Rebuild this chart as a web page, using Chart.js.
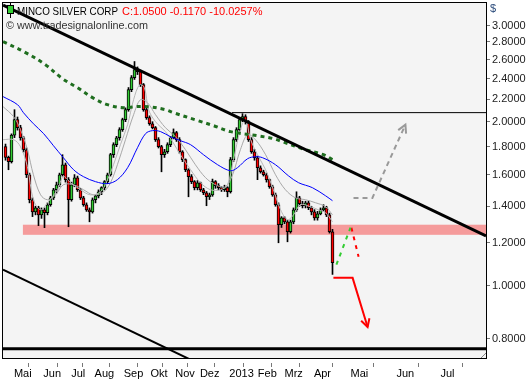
<!DOCTYPE html>
<html><head><meta charset="utf-8">
<script src="https://cdn.jsdelivr.net/npm/chart.js@4/dist/chart.umd.min.js"></script>
<style>html,body{margin:0;padding:0;background:#fff;}canvas{display:block;}</style>
</head><body>
<canvas id="c" width="529" height="380" style="width:529px;height:380px"></canvas>
<script>
// ---- texts ----
const titleName = "MINCO SILVER CORP";
const titleQuote = "C:1.0500 -0.1170 -10.0257%";
const copyright = "\u00A9 www.tradesignalonline.com";
const currency = "$";

// ---- axes ----
const monthLabels = ["Mai","Jun","Jul","Aug","Sep","Okt","Nov","Dez","2013","Feb","Mrz","Apr","Mai","Jun","Jul"];
const monthPos = [2.8,12.6,21.9,29.7,39.4,48.3,56.6,64.8,74.6,84.1,93,102.8,115,130.3,145];
const yTicks = [0.8,1.0,1.2,1.4,1.6,1.8,2.0,2.2,2.4,2.6,2.8,3.0];
const xMin = -0.8333, xMax = 160.1667;
const yMin = 0.738, yMax = 3.30;

// ---- candles (one bar per slot) ----
const opens = [1.80,1.72,1.69,1.89,2.017,1.95,1.869,1.777,1.599,1.439,
 1.367,1.391,1.350,1.379,1.362,1.409,1.450,1.501,1.533,1.599,
 1.668,1.566,1.439,1.533,1.579,1.501,1.450,1.409,1.379,1.367,
 1.439,1.463,1.488,1.514,1.553,1.599,1.740,1.815,1.869,1.934,
 2.017,2.104,2.290,2.408,2.491,2.470,2.338,2.104,2.034,1.983,
 1.950,1.854,1.800,1.740,1.762,1.815,1.869,1.910,1.854,1.762,
 1.704,1.633,1.586,1.553,1.514,1.546,1.501,1.482,1.457,1.469,
 1.553,1.527,1.514,1.501,1.514,1.488,1.704,1.854,1.934,2.017,
 2.043,2.000,1.854,1.762,1.718,1.647,1.619,1.599,1.566,1.520,
 1.469,1.409,1.295,1.333,1.311,1.257,1.311,1.379,1.450,1.415,
 1.403,1.421,1.391,1.367,1.333,1.356,1.379,1.391,1.350,1.257];
const closes = [1.72,1.69,1.89,2.017,1.95,1.869,1.777,1.599,1.439,1.367,
 1.391,1.350,1.379,1.362,1.409,1.450,1.501,1.533,1.599,1.668,
 1.566,1.439,1.533,1.579,1.501,1.450,1.409,1.379,1.367,1.439,
 1.463,1.488,1.514,1.553,1.599,1.740,1.815,1.869,1.934,2.017,
 2.104,2.290,2.408,2.491,2.470,2.338,2.104,2.034,1.983,1.950,
 1.854,1.800,1.740,1.762,1.815,1.869,1.910,1.854,1.762,1.704,
 1.633,1.586,1.553,1.514,1.546,1.501,1.482,1.457,1.469,1.553,
 1.527,1.514,1.501,1.514,1.488,1.704,1.854,1.934,2.017,2.043,
 2.000,1.854,1.762,1.718,1.647,1.619,1.599,1.566,1.520,1.469,
 1.409,1.295,1.333,1.311,1.257,1.311,1.379,1.450,1.415,1.403,
 1.421,1.391,1.367,1.333,1.356,1.379,1.391,1.350,1.257,1.103];
const highs = [1.82,1.73,1.90,2.104,2.04,1.97,1.88,1.79,1.61,1.45,
 1.40,1.40,1.39,1.39,1.42,1.46,1.51,1.55,1.61,1.740,
 1.68,1.58,1.55,1.60,1.59,1.51,1.46,1.42,1.39,1.45,
 1.47,1.50,1.52,1.56,1.61,1.75,1.83,1.88,1.95,2.03,
 2.12,2.31,2.43,2.578,2.52,2.48,2.35,2.12,2.05,2.00,
 1.96,1.87,1.81,1.78,1.83,1.88,1.94,1.92,1.87,1.77,
 1.71,1.64,1.60,1.56,1.56,1.55,1.51,1.49,1.48,1.57,
 1.56,1.54,1.52,1.53,1.52,1.72,1.87,1.95,2.03,2.069,
 2.06,2.01,1.87,1.78,1.73,1.66,1.63,1.61,1.57,1.53,
 1.48,1.42,1.34,1.34,1.32,1.32,1.39,1.488,1.46,1.43,
 1.43,1.43,1.40,1.38,1.37,1.39,1.409,1.40,1.36,1.27];
const lows = [1.70,1.633,1.68,1.87,1.93,1.85,1.76,1.58,1.42,1.34,
 1.35,1.290,1.33,1.279,1.35,1.40,1.44,1.48,1.52,1.59,
 1.55,1.284,1.43,1.52,1.49,1.44,1.40,1.37,1.311,1.36,
 1.42,1.45,1.47,1.50,1.54,1.59,1.72,1.80,1.85,1.92,
 2.00,2.09,2.27,2.39,2.44,2.32,2.09,2.02,1.97,1.94,
 1.84,1.79,1.619,1.72,1.75,1.80,1.86,1.84,1.75,1.69,
 1.62,1.457,1.54,1.50,1.50,1.49,1.47,1.403,1.44,1.46,
 1.51,1.50,1.49,1.49,1.457,1.48,1.69,1.84,1.92,2.00,
 1.98,1.84,1.75,1.70,1.566,1.61,1.59,1.55,1.51,1.46,
 1.40,1.200,1.28,1.30,1.205,1.25,1.30,1.37,1.40,1.39,
 1.39,1.38,1.35,1.32,1.32,1.35,1.37,1.34,1.25,1.050];

// ---- moving averages (read at sample slots) ----
const maBlueX = [-0.8,4,6,9.3,12.7,16,19.3,22.7,26,30,34,37.3,40.7,44,46.7,49,51.7,55,58.3,61.7,66,70.7,75,77.3,80.7,83.3,85.7,90,94.3,97.7,102.3,106.7,109];
const maBlueY = [2.223,2.149,2.077,1.983,1.902,1.807,1.718,1.633,1.586,1.553,1.540,1.566,1.647,1.792,1.902,1.926,1.918,1.877,1.846,1.815,1.740,1.668,1.626,1.647,1.711,1.725,1.718,1.668,1.592,1.546,1.514,1.463,1.433];
const maFastX = [-0.8,2.7,5,7.3,9.3,11.7,14,17.3,19.3,21.7,25,28.3,31.7,34,36,38.3,40.7,42.7,44.7,46.3,47.7,50,53.3,55.7,58.3,61.7,65,68.3,71.7,74,76,78.3,80,81.7,84,86.7,89.3,91.7,94,96,98.3,101.7,104.3,106.7,109];
const maFastY = [1.854,1.854,1.800,1.654,1.439,1.379,1.421,1.501,1.586,1.546,1.501,1.469,1.488,1.566,1.668,1.815,1.975,2.195,2.338,2.308,2.104,2.000,1.918,1.838,1.740,1.633,1.546,1.501,1.501,1.533,1.704,1.934,2.017,1.854,1.740,1.633,1.501,1.379,1.322,1.350,1.409,1.397,1.379,1.362,1.311];
const maSlowX = [-0.8,2.7,5,7.3,9.3,11.7,14,16.7,19.3,22.7,26,29.3,32.7,35,37.3,40,42.7,45,47.3,50,53.3,56.7,60,63.3,66.7,70,73.3,75.7,78.3,80.7,83.3,86.7,90,93.3,96.7,100,103.3,106.7,109];
const maSlowY = [2.131,2.043,1.934,1.777,1.599,1.469,1.439,1.469,1.533,1.533,1.501,1.469,1.488,1.546,1.668,1.854,2.060,2.195,2.167,2.060,1.950,1.877,1.777,1.668,1.579,1.533,1.520,1.599,1.777,1.893,1.854,1.740,1.599,1.501,1.450,1.439,1.421,1.397,1.350];
const maLongX = [-0.8,6.7,13.3,19,24,29,34,39.3,43.3,47.7,53.3,56,64.3,69.3,75,84,89.3,92.3,100,106,109];
const maLongY = [2.804,2.677,2.544,2.398,2.308,2.214,2.149,2.122,2.131,2.131,2.104,2.077,2.008,1.967,1.918,1.885,1.862,1.838,1.777,1.740,1.704];

// ---- drawn analysis lines ----
const upperTrendX = [-0.8333,160.1667], upperTrendY = [3.27,1.235];
const lowerTrendX = [-0.8333,160.1667], lowerTrendY = [1.071,0.403];
const resistX = [75.5,160.1667], resistY = [2.078,2.078];
const floorX = [-0.8333,160.1667], floorY = [0.767,0.767];
const bandLow = 1.241, bandHigh = 1.295, bandStartX = 5.8;
const grayArrowX = [116,122.3,133.3], grayArrowY = [1.450,1.450,1.975];
const redArrowX = [109.3,115.7,120.7], redArrowY = [1.035,1.035,0.841];
const greenPathX = [110.3,115], greenPathY = [1.094,1.279];
const redPathX = [115.3,117.7], redPathY = [1.279,1.131];

const pts = (xs, ys) => xs.map((x, i) => ({x: x, y: ys[i]}));

const FONT = {family: '"Liberation Sans", Arial, sans-serif', size: 11};

const wickData = closes.map((c, i) => ({x: i, y: [lows[i], highs[i]]}));
const bodyData = closes.map((c, i) => ({x: i, y: [opens[i], closes[i]]}));
const bodyColors = closes.map((c, i) => c >= opens[i] ? '#33cc33' : '#ff0000');

function line(xs, ys, color, width, extra) {
  return Object.assign({type: 'line', data: pts(xs, ys), borderColor: color, borderWidth: width,
    pointRadius: 0, fill: false, tension: 0}, extra || {});
}

const decor = {
  id: 'decor',
  beforeDraw(chart) {
    const {ctx, chartArea: a} = chart;
    ctx.save();
    ctx.fillStyle = '#ffffff';
    ctx.fillRect(0, 0, chart.width, chart.height);
    ctx.fillStyle = '#f4f4f4';
    ctx.fillRect(a.left, a.top, a.right - a.left, a.bottom - a.top);
    ctx.restore();
  },
  beforeDatasetsDraw(chart) {
    const {ctx, chartArea: a, scales: {x, y}} = chart;
    ctx.save();
    const y1 = y.getPixelForValue(bandHigh), y2 = y.getPixelForValue(bandLow);
    const x1 = x.getPixelForValue(bandStartX);
    ctx.fillStyle = '#f59b9b';
    ctx.fillRect(x1, y1, a.right - x1, y2 - y1);
    ctx.restore();
  },
  afterDatasetsDraw(chart) {
    const {ctx, chartArea: a} = chart;
    ctx.save();
    // arrow heads
    chart.data.datasets.forEach((ds, i) => {
      if (!ds.arrowHead) return;
      const d = chart.getDatasetMeta(i).data;
      const p = d[d.length - 2], q = d[d.length - 1];
      const ang = Math.atan2(q.y - p.y, q.x - p.x), L = 9;
      ctx.strokeStyle = ds.borderColor; ctx.lineWidth = 2; ctx.setLineDash([]);
      ctx.beginPath();
      ctx.moveTo(q.x - L * Math.cos(ang - 0.5), q.y - L * Math.sin(ang - 0.5));
      ctx.lineTo(q.x, q.y);
      ctx.lineTo(q.x - L * Math.cos(ang + 0.5), q.y - L * Math.sin(ang + 0.5));
      ctx.stroke();
    });
    // frame
    ctx.strokeStyle = '#000'; ctx.lineWidth = 1;
    ctx.strokeRect(a.left - 0.5, a.top - 0.5, a.right - a.left + 1, a.bottom - a.top + 1);
    // legend icon
    ctx.beginPath(); ctx.moveTo(10.5, 2); ctx.lineTo(10.5, 18); ctx.stroke();
    ctx.fillStyle = '#33cc33'; ctx.fillRect(7, 5, 7, 9);
    ctx.strokeRect(7.5, 5.5, 6, 8);
    // texts
    ctx.font = '11px "Liberation Sans", Arial, sans-serif';
    ctx.textBaseline = 'alphabetic'; ctx.textAlign = 'left';
    ctx.fillStyle = '#000'; ctx.fillText(titleName, 17, 15, 101);
    ctx.fillStyle = '#ff0000'; ctx.fillText(titleQuote, 122, 15, 146);
    ctx.fillStyle = '#333'; ctx.fillText(copyright, 6, 29, 142);
    ctx.fillStyle = '#2a4a7a'; ctx.fillText(currency, 490, 12);
    // resize glyph
    ctx.strokeStyle = '#888';
    ctx.beginPath(); ctx.moveTo(a.right - 5, a.bottom); ctx.lineTo(a.right, a.bottom - 5); ctx.stroke();
    ctx.restore();
  }
};

new Chart(document.getElementById('c'), {
  type: 'bar',
  data: {
    datasets: [
      {type: 'bar', data: wickData, backgroundColor: '#000', barThickness: 1, grouped: false, order: 20},
      {type: 'bar', data: bodyData, backgroundColor: bodyColors, borderColor: '#000', borderWidth: 1,
        borderSkipped: false, barThickness: 3, grouped: false, order: 19},
      line(maSlowX, maSlowY, '#a8a8a8', 1, {tension: 0.35, order: 18}),
      line(maFastX, maFastY, '#b8b8b8', 1, {tension: 0.35, order: 17}),
      line(maBlueX, maBlueY, '#0000ff', 1, {tension: 0.35, order: 16}),
      line(maLongX, maLongY, '#1f6e1f', 3, {tension: 0.35, borderDash: [4, 4], order: 15}),
      line(upperTrendX, upperTrendY, '#000', 3, {order: 10}),
      line(lowerTrendX, lowerTrendY, '#000', 2, {order: 10}),
      line(resistX, resistY, '#000', 1, {order: 10}),
      line(floorX, floorY, '#000', 3, {order: 10}),
      line(grayArrowX, grayArrowY, '#999999', 2, {borderDash: [5, 4], arrowHead: true, order: 9}),
      line(redArrowX, redArrowY, '#ff0000', 2, {arrowHead: true, order: 9}),
      line(greenPathX, greenPathY, '#33cc33', 2, {borderDash: [4, 5], order: 9}),
      line(redPathX, redPathY, '#ff0000', 2, {borderDash: [4, 5], order: 9})
    ]
  },
  options: {
    responsive: false, animation: false, devicePixelRatio: 1, events: [],
    layout: {padding: {top: 3, left: 3, right: 0, bottom: 0}},
    plugins: {legend: {display: false}, tooltip: {enabled: false}},
    scales: {
      x: {
        type: 'linear', min: xMin, max: xMax, offset: false, bounds: 'data',
        afterBuildTicks: s => { s.ticks = monthPos.map(v => ({value: v})); },
        afterFit: s => { s.height = 22; s.paddingLeft = 0; s.paddingRight = 0; },
        ticks: {autoSkip: false, maxRotation: 0, minRotation: 0, align: 'start', padding: 0,
          color: '#000', font: FONT, callback: (v, i) => monthLabels[i]},
        grid: {drawOnChartArea: false, drawTicks: true, tickLength: 9, tickColor: '#777',
          tickBorderDash: [0, 5, 4, 20]},
        border: {display: false}
      },
      y: {
        type: 'logarithmic', position: 'right', min: yMin, max: yMax, bounds: 'data',
        afterBuildTicks: s => { s.ticks = yTicks.map(v => ({value: v})); s.min = yMin; s.max = yMax; },
        afterFit: s => { s.width = 43; s.paddingTop = 0; s.paddingBottom = 0; },
        ticks: {autoSkip: false, padding: 2, color: '#222', font: FONT,
          callback: v => Number(v).toFixed(4)},
        grid: {drawOnChartArea: false, drawTicks: true, tickLength: 4, tickColor: '#777'},
        border: {display: false}
      }
    }
  },
  plugins: [decor]
});
</script>
</body></html>
